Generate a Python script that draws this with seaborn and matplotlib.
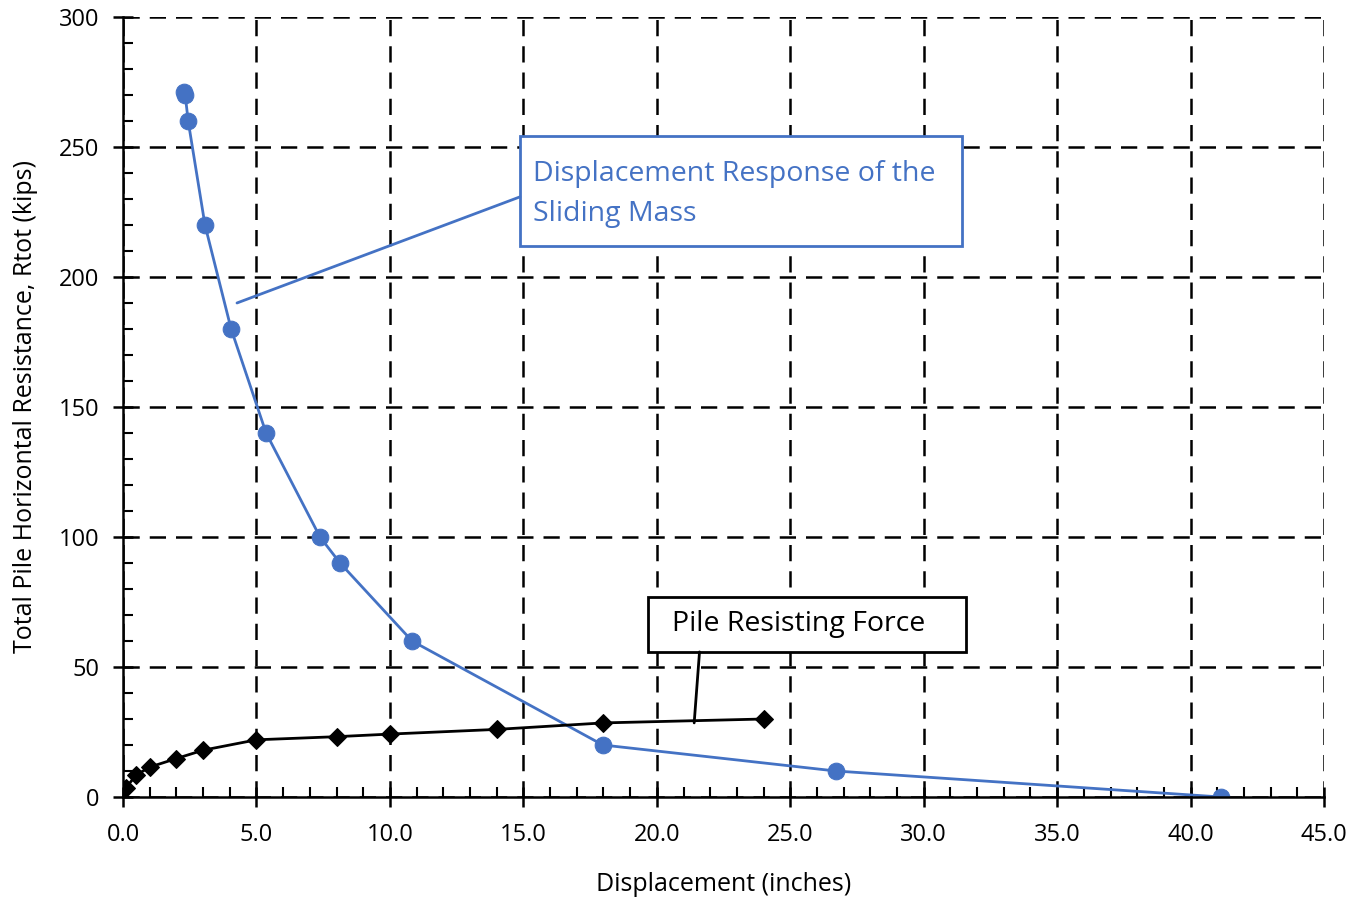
import matplotlib
matplotlib.use("Agg")
import matplotlib.pyplot as plt
import seaborn as sns
import pandas as pd
from matplotlib.patches import Rectangle
from matplotlib.ticker import MultipleLocator

# Data
sliding_disp = [2.29, 2.33, 2.44, 3.07, 4.05, 5.36, 7.38, 8.13, 10.83, 17.98, 26.71, 41.14]
sliding_force = [271, 270, 260, 220, 180, 140, 100, 90, 60, 20, 10, 0]
pile_disp = [0.1, 0.5, 1.0, 2.0, 3.0, 5.0, 8.0, 10.0, 14.0, 18.0, 24.0]
pile_force = [3.5, 8.5, 11.5, 14.8, 18.0, 22.0, 23.2, 24.2, 26.0, 28.5, 30.0]
x_ticks = [0, 5, 10, 15, 20, 25, 30, 35, 40, 45]
y_ticks = [0, 50, 100, 150, 200, 250, 300]

sns.set_style("white")
plt.rcParams['font.family'] = ['Open Sans', 'DejaVu Sans']
plt.rcParams['text.color'] = 'black'
plt.rcParams['axes.labelcolor'] = 'black'

fig = plt.figure(figsize=(13.64, 9.02), dpi=100)
ax = fig.add_axes([0.0902, 0.1164, 0.8805, 0.8648])

blue = "#4472C4"
df_s = pd.DataFrame({"x": sliding_disp, "y": sliding_force})
df_p = pd.DataFrame({"x": pile_disp, "y": pile_force})
sns.lineplot(data=df_s, x="x", y="y", sort=False, ax=ax, color=blue, lw=2,
             marker="o", markersize=12, markeredgecolor=blue, zorder=5)
sns.lineplot(data=df_p, x="x", y="y", sort=False, ax=ax, color="black", lw=2,
             marker="D", markersize=9, markeredgecolor="black", zorder=5)

ax.set_xlim(0, 45)
ax.set_ylim(0, 300)
ax.set_xticks(x_ticks)
ax.set_xticklabels([f"{v:.1f}" for v in x_ticks])
ax.set_yticks(y_ticks)
ax.set_yticklabels([str(v) for v in y_ticks])
ax.xaxis.set_minor_locator(MultipleLocator(1))
ax.yaxis.set_minor_locator(MultipleLocator(10))
ax.tick_params(axis='both', which='major', direction='inout', length=14, width=1.8,
               labelsize=17, colors='black', labelcolor='black')
ax.tick_params(axis='x', which='major', pad=12)
ax.tick_params(axis='y', which='major', pad=10)
ax.tick_params(axis='both', which='minor', direction='in', length=7, width=1.5, colors='black')
ax.tick_params(axis='x', which='both', bottom=True)
ax.tick_params(axis='y', which='both', left=True)

ax.grid(True, which='major', color='black', linestyle=(0, (6.5, 4)), linewidth=1.8)
for s in ['top', 'right']:
    ax.spines[s].set_visible(False)
for s in ['left', 'bottom']:
    ax.spines[s].set_color('black')
    ax.spines[s].set_linewidth(1.8)
    ax.spines[s].set_zorder(6)

ax.set_xlabel("Displacement (inches)", fontsize=18, labelpad=18, color='black')
ax.set_ylabel("Total Pile Horizontal Resistance, Rtot (kips)", fontsize=18, labelpad=15,
              color='black')

# Annotations
ax.add_patch(Rectangle((14.87, 211.9), 31.43 - 14.87, 254.2 - 211.9, facecolor='white',
                       edgecolor=blue, lw=2, zorder=7))
ax.text(15.36, 239.7, "Displacement Response of the", color=blue, fontsize=20.5,
        va='center', ha='left', zorder=8)
ax.text(15.36, 224.3, "Sliding Mass", color=blue, fontsize=20.5, va='center', ha='left', zorder=8)
ax.plot([4.27, 14.87], [190, 230.8], color=blue, lw=2, zorder=7)

ax.add_patch(Rectangle((19.67, 55.8), 31.58 - 19.67, 76.9 - 55.8, facecolor='white',
                       edgecolor='black', lw=2, zorder=7))
ax.text(25.33, 66.7, "Pile Resisting Force", color='black', fontsize=20.5,
        va='center', ha='center', zorder=8)
ax.plot([21.4, 21.6], [28.5, 55.8], color='black', lw=2, zorder=7)

fig.savefig("out.png", dpi=100)
